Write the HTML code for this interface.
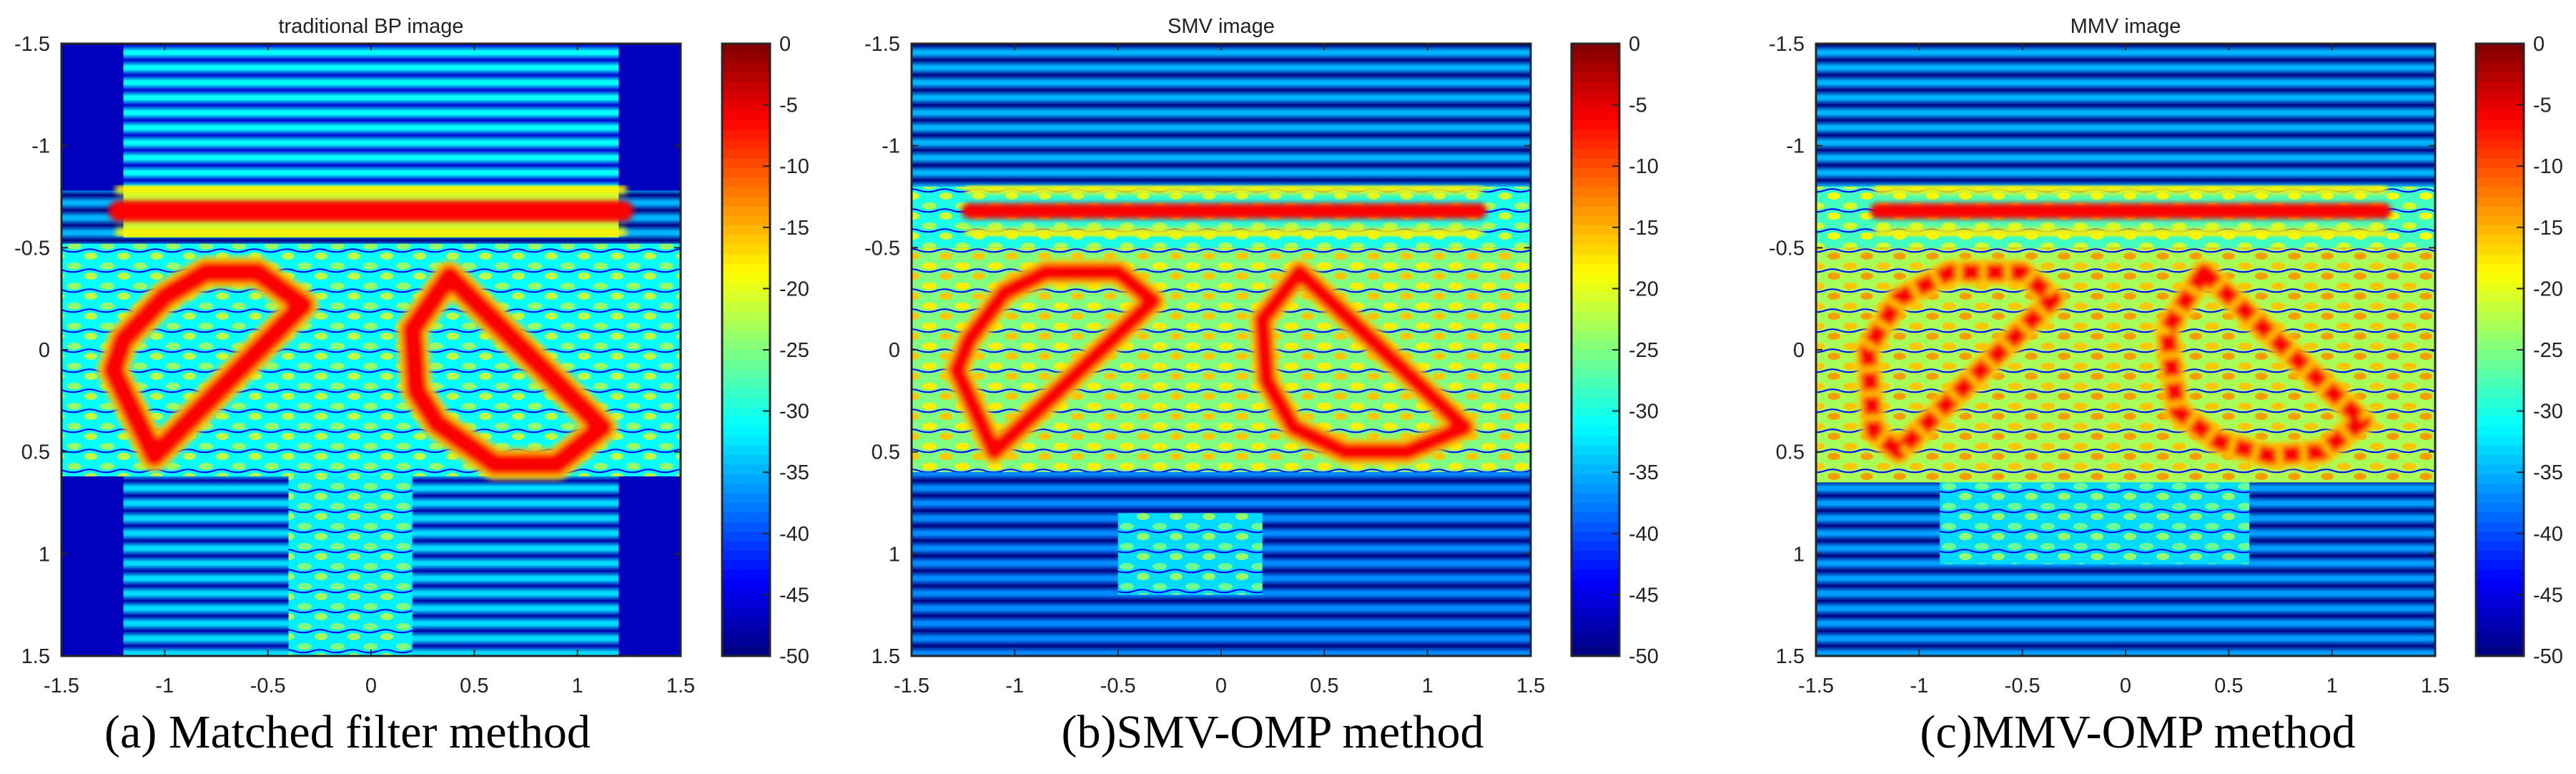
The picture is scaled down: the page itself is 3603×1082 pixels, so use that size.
<!DOCTYPE html>
<html><head><meta charset="utf-8"><style>
html,body{margin:0;padding:0;background:#fff;width:3603px;height:1082px;overflow:hidden}
svg{display:block}
text{font-family:"Liberation Sans",Arial,sans-serif;fill:#222}
.cap{font-family:"Liberation Serif","Times New Roman",serif;fill:#000}
</style></head><body>
<svg id="fig" width="3603" height="1082" viewBox="0 0 3603 1082" xmlns="http://www.w3.org/2000/svg"></svg>
<script>
// ---- data ----
const xTicks=[-1.5,-1,-0.5,0,0.5,1,1.5];
const yTicks=[-1.5,-1,-0.5,0,0.5,1,1.5];
const cbTicks=[0,-5,-10,-15,-20,-25,-30,-35,-40,-45,-50];
const titles=["traditional BP image","SMV image","MMV image"];
const captions=["(a) Matched filter method","(b)SMV-OMP method","(c)MMV-OMP method"];
const barY=[-0.68,-0.68,-0.68];
const barX0=[-1.22,-1.22,-1.2];
const barX1=[1.22,1.25,1.25];
const leftShapes=[
 [[-1.05,0.52],[-1.25,0.1],[-1.2,-0.05],[-1.0,-0.26],[-0.8,-0.38],[-0.55,-0.38],[-0.33,-0.22]],
 [[-1.1,0.5],[-1.28,0.1],[-1.22,-0.05],[-1.05,-0.28],[-0.85,-0.38],[-0.5,-0.38],[-0.33,-0.24]],
 [[-1.1,0.5],[-1.22,0.4],[-1.25,0.0],[-1.1,-0.25],[-0.85,-0.38],[-0.5,-0.38],[-0.35,-0.25]]];
const rightShapes=[
 [[0.38,-0.36],[0.2,-0.1],[0.22,0.2],[0.32,0.36],[0.6,0.56],[0.9,0.56],[1.12,0.38]],
 [[0.38,-0.38],[0.2,-0.15],[0.22,0.15],[0.35,0.38],[0.6,0.5],[0.9,0.5],[1.18,0.38]],
 [[0.38,-0.38],[0.2,-0.1],[0.25,0.3],[0.45,0.45],[0.7,0.52],[0.95,0.5],[1.15,0.35]]];
const regions=[
 [[-1.2,-1.5,1.2,-0.8,-36,'stripe'],[-1.5,-0.78,1.5,-0.52,-40,'stripe'],[-1.2,-0.8,1.2,-0.55,-22,'plain'],
  [-1.5,-0.52,1.5,0.62,-31,'clutter'],[-1.2,0.62,1.2,1.5,-38,'stripe'],[-0.4,0.62,0.2,1.5,-32,'clutter']],
 [[-1.5,-1.5,1.5,-0.8,-40,'stripe'],[-1.5,-0.8,1.5,-0.5,-30,'clutter'],[-1.5,-0.5,1.5,0.6,-25,'clutter'],
  [-1.5,0.6,1.5,1.5,-42,'stripe'],[-0.5,0.8,0.2,1.2,-33,'clutter']],
 [[-1.5,-1.5,1.5,-0.8,-40,'stripe'],[-1.5,-0.8,1.5,-0.5,-28,'clutter'],[-1.5,-0.5,1.5,0.65,-23,'clutter'],
  [-1.5,0.65,1.5,1.5,-41,'stripe'],[-0.9,0.65,0.6,1.05,-33,'clutter']]];
const bgLevel=[-47,-45,-44];
// ---- layout ----
const plotL=[86,1275,2540], plotW=866, plotT=61, plotH=856;
const cbL=[1010,2198,3463], cbW=67;
const capX=[486,1780,2990];
const NS="http://www.w3.org/2000/svg";
const svg=document.getElementById('fig');
function el(t,a,p){const e=document.createElementNS(NS,t);for(const k in a)e.setAttribute(k,a[k]);(p||svg).appendChild(e);return e;}
function jet(db){const v=Math.max(0,Math.min(1,(db+50)/50));const c=x=>Math.round(255*Math.max(0,Math.min(1,1.5-Math.abs(x))));return `rgb(${c(4*v-3)},${c(4*v-2)},${c(4*v-1)})`;}
const defs=el('defs',{});
const blur=el('filter',{id:'bl',x:'-10%',y:'-10%',width:'120%',height:'120%'},defs);
el('feGaussianBlur',{stdDeviation:'4'},blur);
let pid=0;
function stripePat(db){const id='p'+(pid++);const p=el('pattern',{id,patternUnits:'userSpaceOnUse',width:60,height:21},defs);
 const g=el('linearGradient',{id:id+'g',x1:0,y1:0,x2:0,y2:1},defs);
 el('stop',{offset:'0',"stop-color":jet(db-10)},g);el('stop',{offset:'0.4',"stop-color":jet(db+5)},g);el('stop',{offset:'0.6',"stop-color":jet(db+5)},g);el('stop',{offset:'1',"stop-color":jet(db-10)},g);
 el('rect',{width:60,height:21,fill:`url(#${id}g)`},p);return id;}
function clutterPat(db){const id='p'+(pid++);const p=el('pattern',{id,patternUnits:'userSpaceOnUse',width:46,height:28},defs);
 el('rect',{width:46,height:28,fill:jet(db)},p);
 el('ellipse',{cx:12,cy:8,rx:10,ry:5,fill:jet(db+7)},p);
 el('ellipse',{cx:35,cy:22,rx:9,ry:5,fill:jet(db+9)},p);
 el('path',{d:'M0 15 Q12 18 23 14 T46 15',stroke:jet(-44),'stroke-width':2,fill:'none'},p);
 return id;}
for(let i=0;i<3;i++){
 const L=plotL[i];
 const sx=v=>L+(v+1.5)/3*plotW, sy=v=>plotT+(v+1.5)/3*plotH;
 const cp=el('clipPath',{id:'c'+i},defs);el('rect',{x:L,y:plotT,width:plotW,height:plotH},cp);
 const g=el('g',{'clip-path':`url(#c${i})`});
 
 
 el('rect',{x:L,y:plotT,width:plotW,height:plotH,fill:jet(bgLevel[i])},g);
 regions[i].forEach((r,k)=>{
  const id=r[5]==='stripe'?stripePat(r[4]):r[5]==='clutter'?clutterPat(r[4]):null;
  const e=el('rect',{x:sx(r[0]),y:sy(r[1]),width:sx(r[2])-sx(r[0]),height:sy(r[3])-sy(r[1]),fill:id?`url(#${id})`:jet(r[4])},g);
  
  
 });
 const bg=el('g',{filter:'url(#bl)'},g);
 el('line',{x1:sx(barX0[i]),x2:sx(barX1[i]),y1:sy(barY[i])-30,y2:sy(barY[i])-30,stroke:jet(-18),'stroke-width':12,'stroke-linecap':'round'},bg);
 el('line',{x1:sx(barX0[i]),x2:sx(barX1[i]),y1:sy(barY[i])+30,y2:sy(barY[i])+30,stroke:jet(-18),'stroke-width':12,'stroke-linecap':'round'},bg);
 const bar=el('line',{x1:sx(barX0[i]),x2:sx(barX1[i]),y1:sy(barY[i]),y2:sy(barY[i]),stroke:jet(-6),'stroke-width':i===0?30:22,'stroke-linecap':'round'},bg);
 
 
 [leftShapes[i],rightShapes[i]].forEach(s=>{
  const pts=s.map(p=>sx(p[0])+','+sy(p[1])).join(' ');
  const sg=el('g',{filter:'url(#bl)'},g);
  el('polygon',{points:pts,fill:'none',stroke:jet(-16),'stroke-width':i===0?44:36,'stroke-linejoin':'round'},sg);
  const pg=el('polygon',{points:pts,fill:'none',stroke:jet(-6),'stroke-width':i===0?30:24,'stroke-linejoin':'round','stroke-dasharray':i===2?'26 8':'none'},sg);
  
  
 });
 el('rect',{x:L,y:plotT,width:plotW,height:plotH,fill:'none',stroke:'#262626','stroke-width':3});
 xTicks.forEach(t=>{const x=sx(t);
  el('line',{x1:x,x2:x,y1:plotT+plotH,y2:plotT+plotH-9,stroke:'#262626','stroke-width':2});
  el('line',{x1:x,x2:x,y1:plotT,y2:plotT+9,stroke:'#262626','stroke-width':2});
  const tx=el('text',{x:x,y:968,'font-size':29,'text-anchor':'middle'});tx.textContent=t;
  
  });
 yTicks.forEach(t=>{const y=sy(t);
  el('line',{x1:L,x2:L+9,y1:y,y2:y,stroke:'#262626','stroke-width':2});
  el('line',{x1:L+plotW,x2:L+plotW-9,y1:y,y2:y,stroke:'#262626','stroke-width':2});
  const tx=el('text',{x:L-16,y:y+10,'font-size':29,'text-anchor':'end'});tx.textContent=t;
  
  });
 const tt=el('text',{x:L+plotW/2,y:46,'font-size':29,'text-anchor':'middle'});tt.textContent=titles[i];
 
 
 const gid='cbg'+i;const lg=el('linearGradient',{id:gid,x1:0,y1:1,x2:0,y2:0},defs);
 for(let k=0;k<64;k++){const db=-50+50*(k+0.5)/64;el('stop',{offset:k/64,'stop-color':jet(db)},lg);el('stop',{offset:(k+1)/64,'stop-color':jet(db)},lg);}
 const cb=el('rect',{x:cbL[i],y:plotT,width:cbW,height:plotH,fill:`url(#${gid})`,stroke:'#262626','stroke-width':3});
 
 
 cbTicks.forEach(t=>{const y=plotT+(-t)/50*plotH;
  el('line',{x1:cbL[i]+cbW,x2:cbL[i]+cbW-10,y1:y,y2:y,stroke:'#262626','stroke-width':2});
  const tx=el('text',{x:cbL[i]+cbW+13,y:y+10,'font-size':29});tx.textContent=t;
  
  });
 const c=el('text',{x:capX[i],y:1045,'font-size':66,'text-anchor':'middle',class:'cap'});c.textContent=captions[i];
 
 
}
</script>
</body></html>
